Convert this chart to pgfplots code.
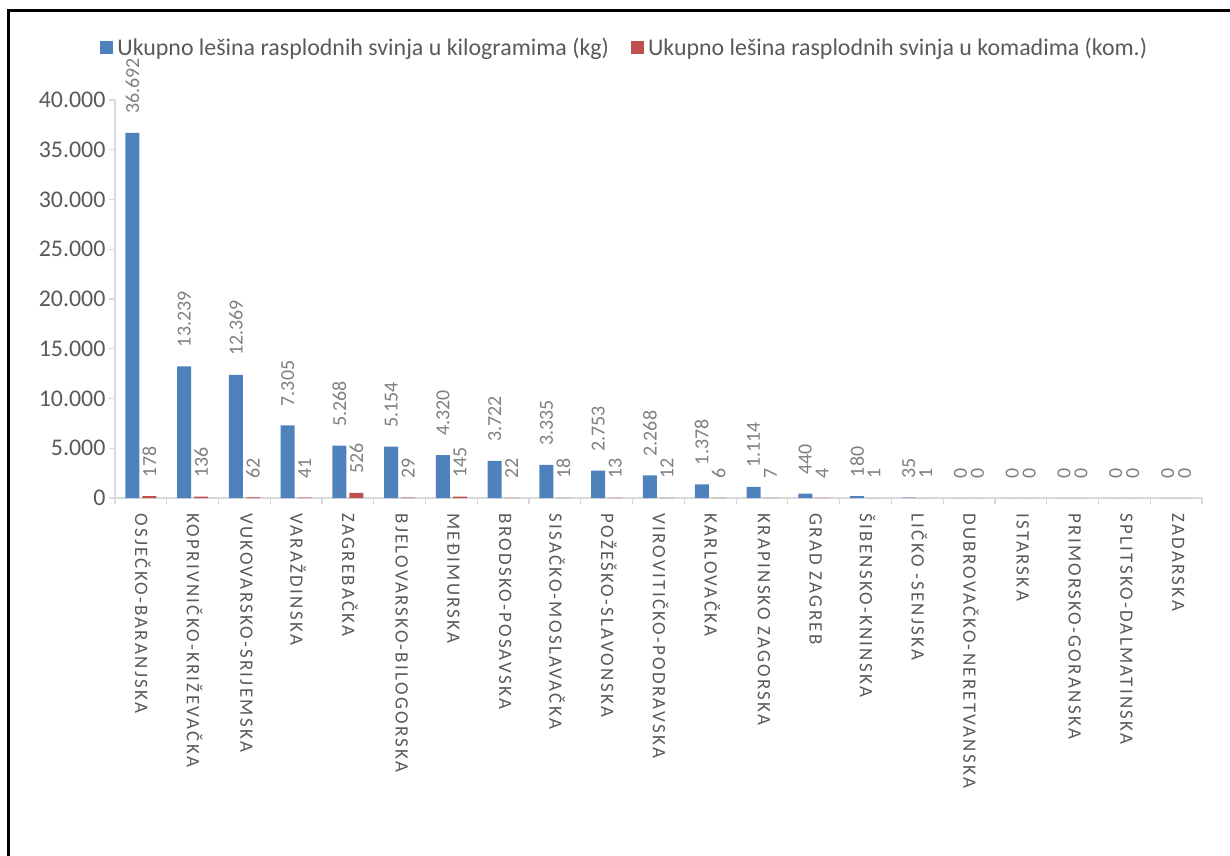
\documentclass[border=0pt]{standalone}
\usepackage{fontspec}
\setmainfont{Carlito}
\newfontfamily\spaced[LetterSpace=12]{Carlito}
\usepackage{pgfplots}
\usepackage{pgfplotstable}
\pgfplotsset{compat=1.18}
\definecolor{kgblue}{HTML}{4F81BD}
\definecolor{komred}{HTML}{C0504D}
\definecolor{txt}{HTML}{595959}
\definecolor{lbl}{HTML}{7F7F7F}
\definecolor{axln}{HTML}{D9D9D9}

% zupanija, kg, komadi
\pgfplotstableread{
idx kg kom
0 36692 178
1 13239 136
2 12369 62
3 7305 41
4 5268 526
5 5154 29
6 4320 145
7 3722 22
8 3335 18
9 2753 13
10 2268 12
11 1378 6
12 1114 7
13 440 4
14 180 1
15 35 1
16 0 0
17 0 0
18 0 0
19 0 0
20 0 0
}\data

\pgfkeys{/pgf/number format/.cd, fixed, 1000 sep={.}, assume math mode=true}

\begin{document}
\begin{tikzpicture}
\useasboundingbox (0,0) rectangle (1230bp,-856bp);
\draw[line width=3bp] (8bp,-856bp) -- (8bp,-10bp) -- (1230bp,-10bp);
\begin{axis}[
    at={(115bp,-498bp)}, anchor=south west,
    scale only axis, width=1087bp, height=398bp,
    ybar=3bp, bar width=14bp,
    xmin=-0.5, xmax=20.5, ymin=0, ymax=40000,
    scaled y ticks=false,
    axis x line=bottom, axis y line=left,
    axis line style={draw=axln, line width=1.2bp, -},
    tick align=outside, major tick length=6bp,
    xtick={0,...,20},
    xticklabels={OSJEČKO-BARANJSKA, KOPRIVNIČKO-KRIŽEVAČKA, VUKOVARSKO-SRIJEMSKA,
        VARAŽDINSKA, ZAGREBAČKA, BJELOVARSKO-BILOGORSKA, MEĐIMURSKA,
        BRODSKO-POSAVSKA, SISAČKO-MOSLAVAČKA, POŽEŠKO-SLAVONSKA,
        VIROVITIČKO-PODRAVSKA, KARLOVAČKA, KRAPINSKO ZAGORSKA, GRAD ZAGREB,
        ŠIBENSKO-KNINSKA, LIČKO -SENJSKA, DUBROVAČKO-NERETVANSKA, ISTARSKA,
        PRIMORSKO-GORANSKA, SPLITSKO-DALMATINSKA, ZADARSKA},
    x tick style={draw=none},
    extra x ticks={-0.5,0.5,...,20.5},
    extra x tick labels={},
    extra x tick style={x tick style={draw=axln, line width=1.2bp}},
    ytick={0,5000,...,40000},
    y tick style={draw=axln, line width=1.2bp},
    yticklabel style={font=\fontsize{24}{24}\selectfont, text=txt},
    xticklabel style={rotate=-90, anchor=west, xshift=6bp, yshift=2bp,
        font=\spaced\fontsize{19}{19}\selectfont, text=txt},
    nodes near coords,
    nodes near coords style={rotate=90, anchor=west, inner xsep=19bp, inner ysep=0bp,
        font=\fontsize{20}{20}\selectfont, text=lbl},
    legend columns=2,
    legend style={at={(0.469,1.1307)}, anchor=center, draw=none, fill=none,
        font=\fontsize{24}{24}\selectfont, text=txt,
        /tikz/every even column/.append style={column sep=20bp}},
    legend image code/.code={\fill[#1] (0bp,-6.5bp) rectangle (13bp,6.5bp); \path (15bp,0bp);},
]
\addplot[fill=kgblue, draw=none] table[x=idx, y=kg] {\data};
\addplot[fill=komred, draw=none] table[x=idx, y=kom] {\data};
\legend{Ukupno lešina rasplodnih svinja u kilogramima (kg), Ukupno lešina rasplodnih svinja u komadima (kom.)}
\end{axis}
\end{tikzpicture}
\end{document}
